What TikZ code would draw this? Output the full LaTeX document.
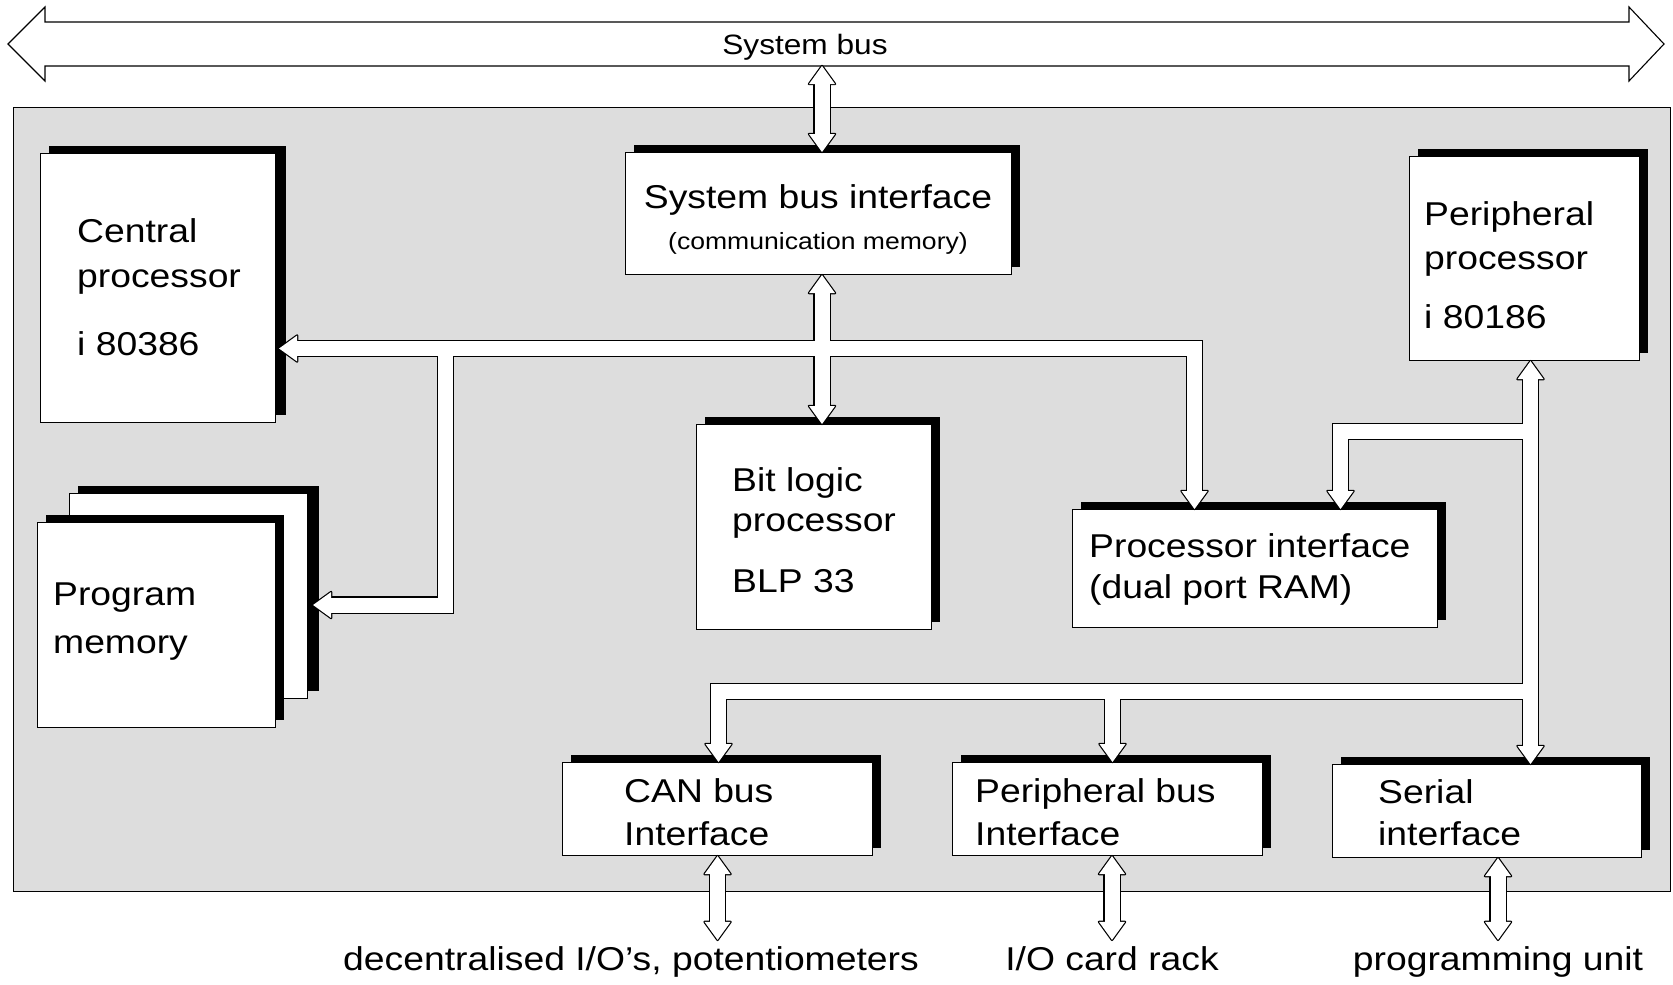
\documentclass[tikz,border=0pt]{standalone}
\usepackage{fontspec}
\setmainfont{Liberation Sans}[FakeStretch=1.13]
\usetikzlibrary{calc,shadows}

\definecolor{panelgray}{RGB}{221,221,221}

\tikzset{
  box/.style={draw=black, line width=1.1pt, fill=white, inner sep=0pt, anchor=north west,
    general shadow={fill=black, shadow xshift=8pt, shadow yshift=8pt}},
  lbl/.style={inner sep=0pt, anchor=base west, font=\fontsize{33}{40}\selectfont},
  pipeout/.style={draw=black, line width=17.4pt},
  pipein/.style={draw=white, line width=15pt},
  headout/.style={fill=black, draw=black, line width=2.4pt, line join=round},
  headin/.style={fill=white},
}

% hollow arrow head: style, tip point, direction (canvas degrees)
\newcommand\headat[3]{\path[#1, shift={(#2)}, rotate=#3] (0,0) -- (-18,13) -- (-18,-13) -- cycle;}
% stacked text lines, first baseline is the node baseline
\newcommand\lines[2]{\vtop{\baselineskip=#1pt\lineskiplimit=-100pt\lineskip=0pt #2}}

\begin{document}
\begin{tikzpicture}[x=1pt,y=-1pt]
\useasboundingbox (0,0) rectangle (1673,985);

% system bus
\draw[fill=white, line width=1.1pt, line join=miter]
  (8,44) -- (45,7) -- (45,22) -- (1629,22) -- (1629,7) -- (1664,44)
  -- (1629,81) -- (1629,66) -- (45,66) -- (45,81) -- cycle;
\node[lbl, anchor=base, font=\fontsize{28}{32}\selectfont] (bus) at (805,54) {System bus};
\coordinate (busB) at (822,66);

% module panel
\node[draw=black, line width=1.1pt, fill=panelgray, inner sep=0pt, anchor=north west,
  minimum width=1657pt, minimum height=784pt] (panel) at (13,107) {};

% function blocks
\node[box, minimum width=386pt, minimum height=122pt] (sbi) at (625,152) {};
\node[box, minimum width=235pt, minimum height=269pt,
  general shadow={fill=black, shadow xshift=10pt, shadow yshift=8pt}] (cpu) at (40,153) {};
\node[box, minimum width=238pt, minimum height=205pt,
  general shadow={fill=black, shadow xshift=11pt, shadow yshift=8pt}] (pmb) at (69,493) {};
\node[box, minimum width=238pt, minimum height=205pt] (pmf) at (37,522) {};
\node[box, minimum width=235pt, minimum height=205pt] (blp) at (696,424) {};
\node[box, minimum width=365pt, minimum height=118pt] (pi) at (1072,509) {};
\node[box, minimum width=230pt, minimum height=204pt] (pp) at (1409,156) {};
\node[box, minimum width=310pt, minimum height=93pt] (can) at (562,762) {};
\node[box, minimum width=310pt, minimum height=93pt] (pb) at (952,762) {};
\node[box, minimum width=309pt, minimum height=93pt] (ser) at (1332,764) {};

% block texts
\node[lbl, anchor=base] (sbi-t) at (818,208) {System bus interface};
\node[lbl, anchor=base, font=\fontsize{23.5}{28}\selectfont] (sbi-s) at (818,249) {(communication memory)};
\node[lbl] (cpu-t) at (77,242) {\lines{45}{\hbox{Central}\hbox{processor}\vskip23pt\hbox{i 80386}}};
\node[lbl] (pm-t) at (53,605) {\lines{48}{\hbox{Program}\hbox{memory}}};
\node[lbl] (blp-t) at (732,491) {\lines{40}{\hbox{Bit logic}\hbox{processor}\vskip21pt\hbox{BLP 33}}};
\node[lbl] (pi-t) at (1089,557) {\lines{41}{\hbox{Processor interface}\hbox{(dual port RAM)}}};
\node[lbl] (pp-t) at (1424,225) {\lines{44}{\hbox{Peripheral}\hbox{processor}\vskip15pt\hbox{i 80186}}};
\node[lbl] (can-t) at (624,802) {\lines{43}{\hbox{CAN bus}\hbox{Interface}}};
\node[lbl] (pb-t) at (975,802) {\lines{43}{\hbox{Peripheral bus}\hbox{Interface}}};
\node[lbl] (ser-t) at (1378,803) {\lines{42}{\hbox{Serial}\hbox{interface}}};

% external devices
\node[lbl, anchor=base, inner sep=6pt] (io1) at (631,970) {decentralised I/O’s, potentiometers};
\node[lbl, anchor=base, inner sep=6pt] (io2) at (1112,970) {I/O card rack};
\node[lbl, anchor=base, inner sep=6pt] (io3) at (1498,970) {programming unit};

% bus junctions and corners
\coordinate (v1) at (822,348.5);
\coordinate (hA) at (822,348.5);
\coordinate (cA) at (1194.5,348.5);
\coordinate (jL) at (445.5,348.5);
\coordinate (jPM) at (445.5,605);
\coordinate (t) at (1530.5,431.5);
\coordinate (tb) at (1530.5,691.5);
\coordinate (cB) at (1340.5,431.5);
\coordinate (cC) at (718.5,691.5);
\coordinate (jPB) at (1112.5,691.5);

% hollow bus connectors: outline pass, then interior pass
\foreach \pipe/\tipst in {pipeout/headout, pipein/headin}{
  % system bus <-> system bus interface
  \draw[\pipe] ($(busB)+(0,14)$) -- ($(v1|-sbi.north)+(0,-14)$);
  \headat{\tipst}{busB}{90}
  \headat{\tipst}{v1|-sbi.north}{270}
  % internal bus
  \draw[\pipe] ($(v1|-sbi.south)+(0,14)$) -- ($(v1|-blp.north)+(0,-14)$);
  \draw[\pipe] ($(cpu.east|-hA)+(17,0)$) -- (cA) -- ($(cA|-pi.north)+(0,-14)$);
  \draw[\pipe] (jL) -- (jPM) -- ($(pmb.east|-jPM)+(19,0)$);
  \headat{\tipst}{v1|-sbi.south}{90}
  \headat{\tipst}{v1|-blp.north}{270}
  \headat{\tipst}{$(cpu.east|-hA)+(3,0)$}{180}
  \headat{\tipst}{cA|-pi.north}{270}
  \headat{\tipst}{$(pmb.east|-jPM)+(5,0)$}{180}
  % peripheral bus
  \draw[\pipe] ($(t|-pp.south)+(0,14)$) -- ($(t|-ser.north)+(0,-14)$);
  \draw[\pipe] (t) -- (cB) -- ($(cB|-pi.north)+(0,-14)$);
  \draw[\pipe] (tb) -- (cC) -- ($(cC|-can.north)+(0,-14)$);
  \draw[\pipe] (jPB) -- ($(jPB|-pb.north)+(0,-14)$);
  \headat{\tipst}{t|-pp.south}{90}
  \headat{\tipst}{t|-ser.north}{270}
  \headat{\tipst}{cB|-pi.north}{270}
  \headat{\tipst}{cC|-can.north}{270}
  \headat{\tipst}{jPB|-pb.north}{270}
  % external links
  \draw[\pipe] ($(can.south)+(0,14)$) -- ($(can.south|-io1.north)+(0,-14)$);
  \headat{\tipst}{can.south}{90}
  \headat{\tipst}{can.south|-io1.north}{270}
  \draw[\pipe] ($(io2.north|-pb.south)+(0,14)$) -- ($(io2.north)+(0,-14)$);
  \headat{\tipst}{io2.north|-pb.south}{90}
  \headat{\tipst}{io2.north}{270}
  \draw[\pipe] ($(io3.north|-ser.south)+(0,14)$) -- ($(io3.north)+(0,-14)$);
  \headat{\tipst}{io3.north|-ser.south}{90}
  \headat{\tipst}{io3.north}{270}
}
\end{tikzpicture}
\end{document}
